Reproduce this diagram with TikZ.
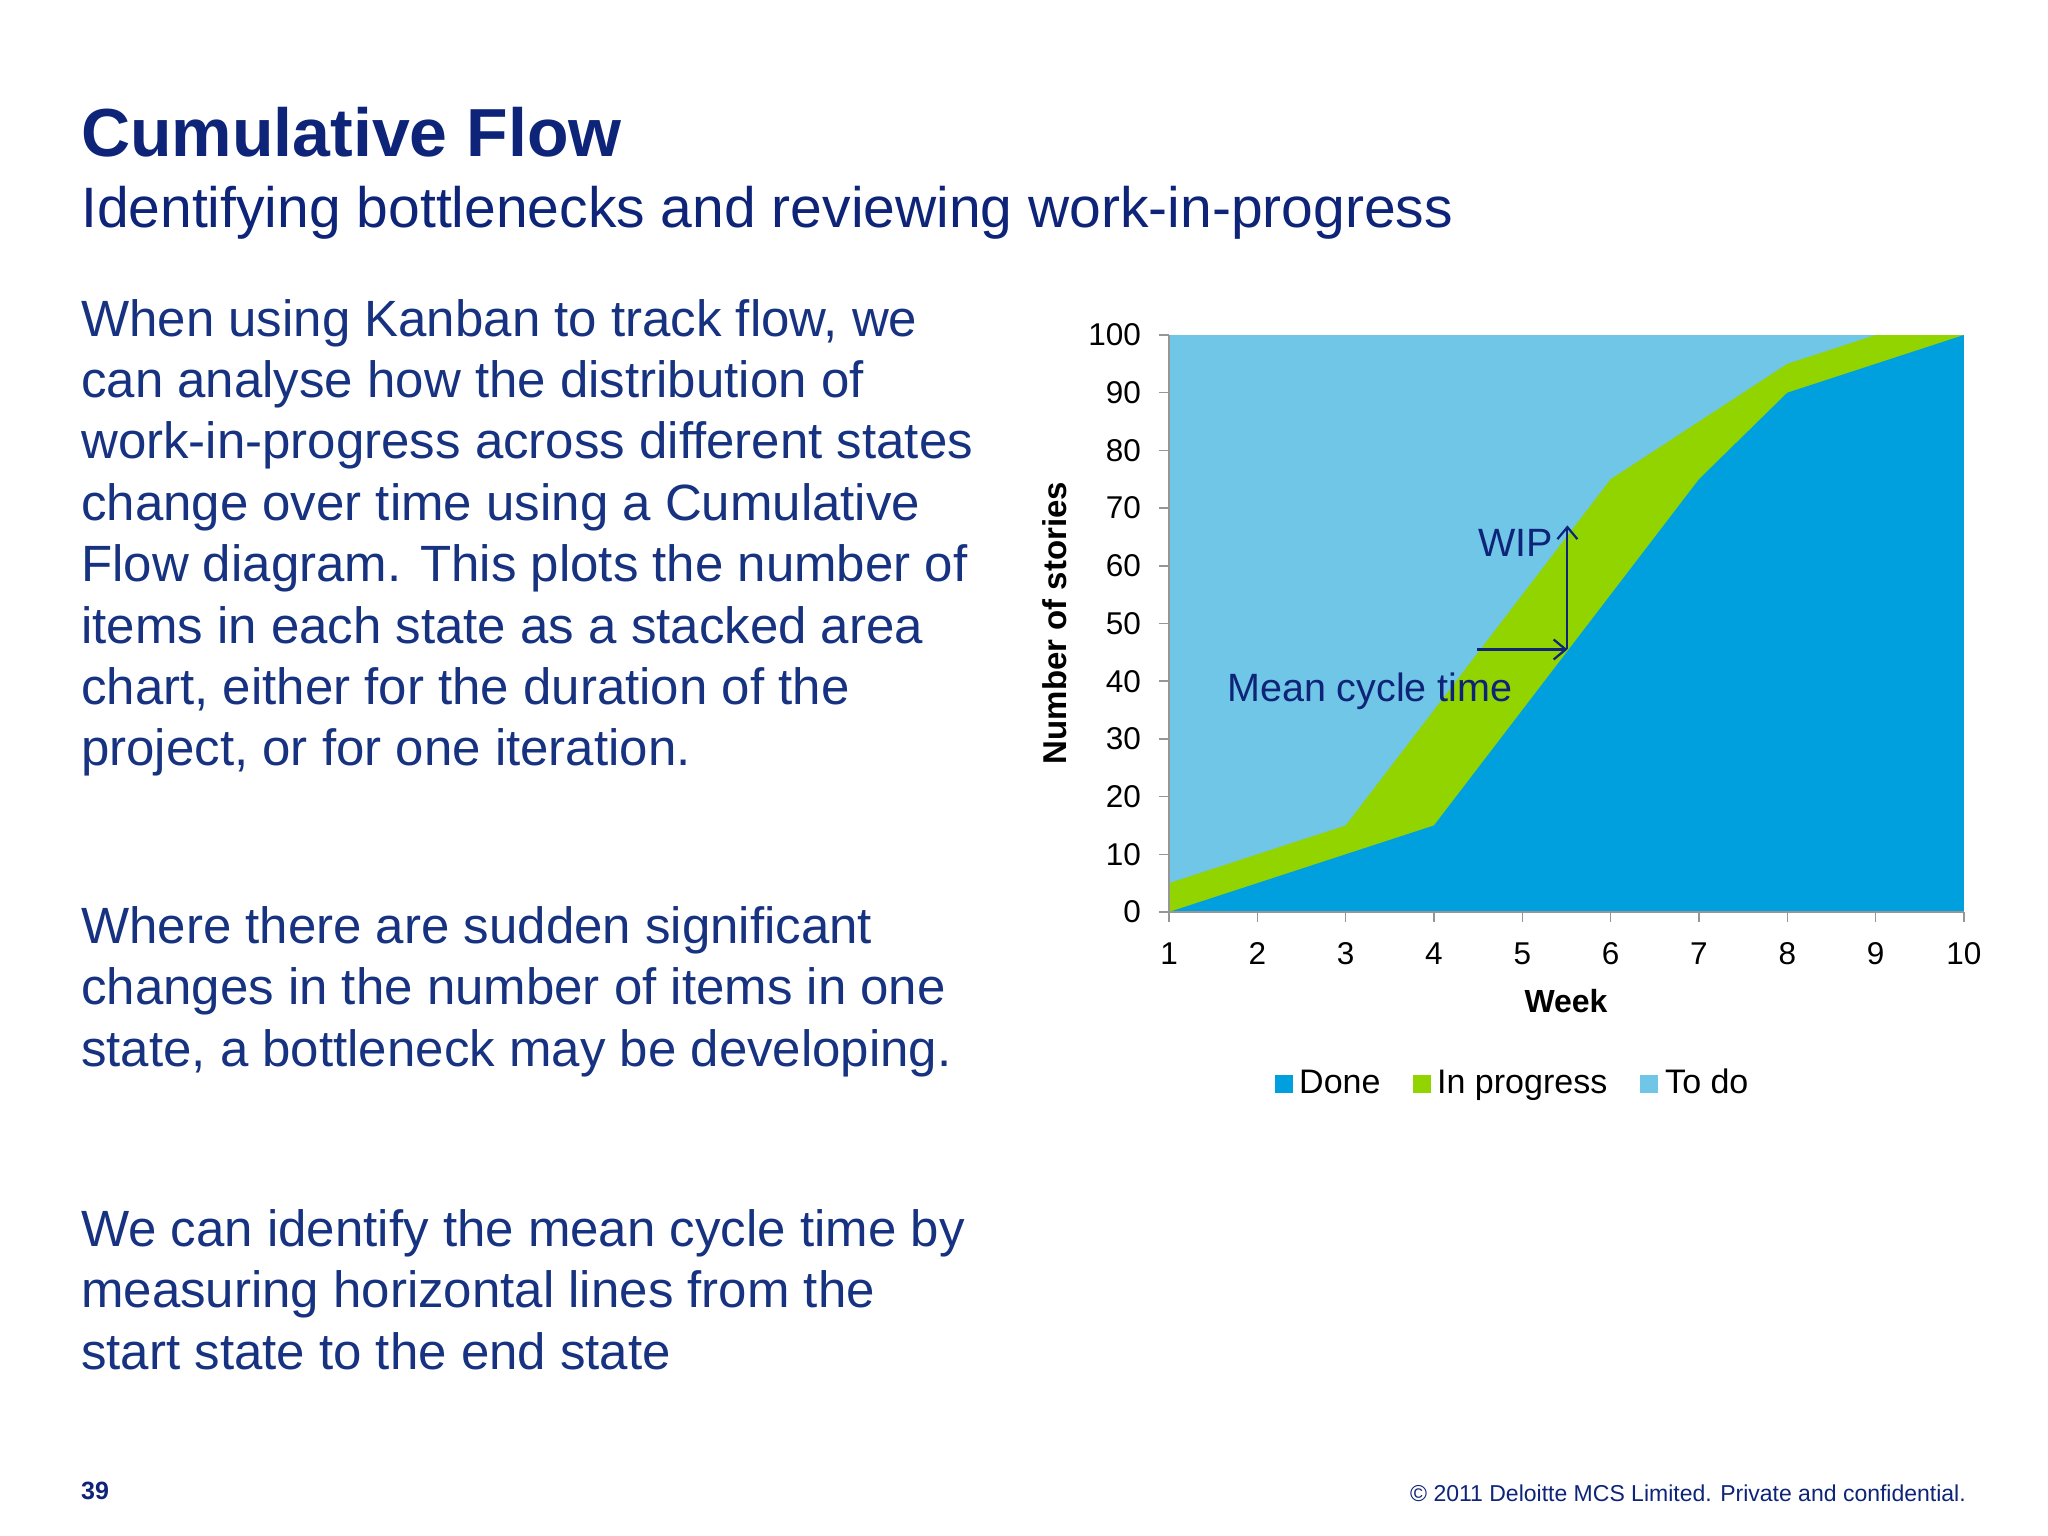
\documentclass[tikz,border=0pt]{standalone}
\usepackage{fontspec}
\setmainfont{Liberation Sans}
\definecolor{navy}{RGB}{14,36,120}
\definecolor{bodyc}{RGB}{22,50,128}
\definecolor{done}{RGB}{0,160,222}
\definecolor{inprog}{RGB}{146,212,0}
\definecolor{todo}{RGB}{112,198,230}
\definecolor{axisc}{RGB}{150,150,150}
\begin{document}
\begin{tikzpicture}[x=1pt,y=-1pt,
  body/.style={anchor=base west,inner sep=0,text=bodyc,font=\fontsize{51}{61}\selectfont},
  tick/.style={inner sep=0,text=black,font=\fontsize{31.5}{34}\selectfont},
  ann/.style={inner sep=0,text=navy,font=\fontsize{39.5}{44}\selectfont},
  arr/.style={draw=navy,line width=2.2pt,-{Straight Barb[length=12pt,width=20pt]}},
  leg/.style={anchor=base west,inner sep=0,font=\fontsize{34}{38}\selectfont}]
\usetikzlibrary{arrows.meta}
\useasboundingbox[fill=white] (0,0) rectangle (2048,1536);
\node[anchor=base west,inner sep=0,text=navy,font=\fontsize{68}{72}\selectfont\bfseries] (title) at (81,157) {Cumulative Flow};
\node[anchor=base west,inner sep=0,text=navy,font=\fontsize{57}{64}\selectfont] (sub) at (81,227) {Identifying bottlenecks and reviewing work-in-progress};
\node[body] (p1a) at (81,336) {When using Kanban to track flow, we};
\node[body] (p1b) at (81,397) {can analyse how the distribution of};
\node[body] (p1c) at (81,458) {work-in-progress across different states};
\node[body] (p1d) at (81,520) {change over time using a Cumulative};
\node[body] (p1e) at (81,581) {Flow diagram. This plots the number of};
\node[body] (p1f) at (81,643) {items in each state as a stacked area};
\node[body] (p1g) at (81,704) {chart, either for the duration of the};
\node[body] (p1h) at (81,765) {project, or for one iteration.};
\node[body] (p2a) at (81,943) {Where there are sudden significant};
\node[body] (p2b) at (81,1004) {changes in the number of items in one};
\node[body] (p2c) at (81,1066) {state, a bottleneck may be developing.};
\node[body] (p3a) at (81,1246) {We can identify the mean cycle time by};
\node[body] (p3b) at (81,1307) {measuring horizontal lines from the};
\node[body] (p3c) at (81,1369) {start state to the end state};
\node[anchor=base west,inner sep=0,text=navy,font=\fontsize{25}{28}\selectfont\bfseries] (pg) at (81,1499) {39};
\node[anchor=base east,inner sep=0,text=navy,font=\fontsize{23}{26}\selectfont] (copy) at (1966,1501) {© 2011 Deloitte MCS Limited. Private and confidential.};
% chart
\begin{scope}[xshift=1169pt,yshift=-912pt,x=88.33pt,y=5.77pt]
\fill[todo] (0,0) rectangle (9,100);
\fill[inprog] (0,0) -- (0,5) -- (1,10) -- (2,15) -- (3,35) -- (4,55) -- (5,75) -- (6,85) -- (7,95) -- (8,100) -- (9,100) -- (9,0) -- cycle;
\fill[done] (0,0) -- (1,5) -- (2,10) -- (3,15) -- (4,35) -- (5,55) -- (6,75) -- (7,90) -- (8,95) -- (9,100) -- (9,0) -- cycle;
\draw[axisc,line width=1.5pt] (0,100) -- (0,0) -- (9,0);
\foreach \v in {0,10,...,100} {
  \draw[axisc,line width=1.5pt] (0,\v) -- ++(-10pt,0);
  \node[tick,anchor=east] (yt\v) at ([xshift=-28pt]0,\v) {\v};
}
\foreach \w in {1,...,10} {
  \draw[axisc,line width=1.5pt] (\w-1,0) -- ++(0,-10pt);
  \node[tick,anchor=base] (xt\w) at ([yshift=-52pt]\w-1,0) {\w};
}
\coordinate (hs) at (3.49,45.5);
\coordinate (hp) at (4.51,45.5);
\coordinate (vt) at (4.51,67);
\end{scope}
\draw[arr] (hs) -- (hp);
\draw[arr] (hp) -- (vt);
\node[ann,anchor=base west] (wip) at (1478,556) {WIP};
\node[ann,anchor=base west] (mct) at (1227,701) {Mean cycle time};
\node[anchor=base,inner sep=0,font=\fontsize{32}{36}\selectfont\bfseries] (wk) at (1566,1012) {Week};
\node[rotate=90,inner sep=0,font=\fontsize{33}{36}\selectfont\bfseries] (ylab) at (1055,623) {Number of stories};
\fill[done] (1275,1075) rectangle ++(18,18);
\node[leg] (l1) at (1299,1093) {Done};
\fill[inprog] (1413,1075) rectangle ++(18,18);
\node[leg] (l2) at (1437,1093) {In progress};
\fill[todo] (1640,1075) rectangle ++(18,18);
\node[leg] (l3) at (1665,1093) {To do};
\end{tikzpicture}
\end{document}
